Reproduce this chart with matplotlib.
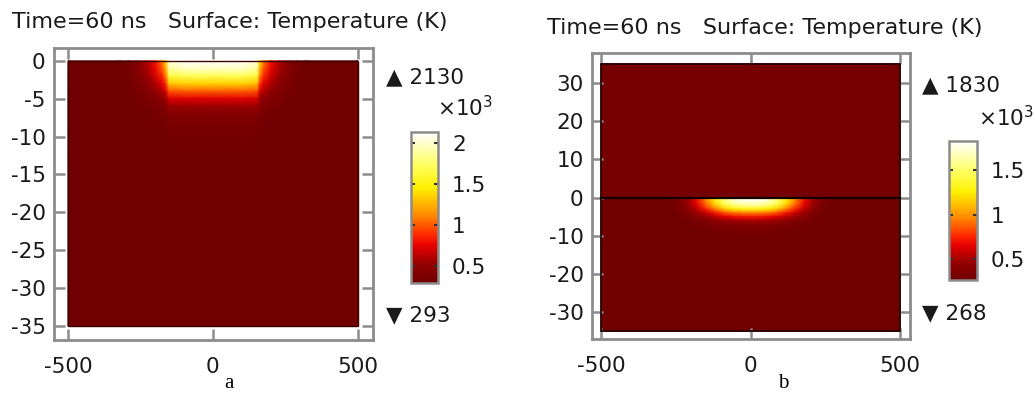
import numpy as np
import matplotlib
matplotlib.use('Agg')
import matplotlib.pyplot as plt
from matplotlib.colors import LinearSegmentedColormap, Normalize
from matplotlib.cm import ScalarMappable

# ---------------- data ----------------
# panel a : temperature rise profiles (x factor along surface, rise vs depth)
a_x = [-500, -320, -290, -260, -230, -200, -175, -162, -152, -100, 0, 100, 152, 162, 175, 200, 230, 260, 290, 320, 500]
a_xfac = [0, 0, 0.03, 0.08, 0.16, 0.28, 0.42, 0.58, 0.95, 1, 1, 1, 0.95, 0.58, 0.42, 0.28, 0.16, 0.08, 0.03, 0, 0]
a_y = [0, -1, -2, -3, -4, -5, -6, -7, -9, -12, -35]
a_rise = [1837, 1680, 1400, 1060, 720, 440, 250, 135, 50, 10, 0]
a_tmin, a_tmax = 293, 2130

# panel b
b_x = [-500, -280, -240, -210, -180, -150, -120, -90, -60, -30, 0, 30, 60, 90, 120, 150, 180, 210, 240, 280, 500]
b_xfac = [0, 0, 0.05, 0.14, 0.28, 0.45, 0.64, 0.83, 0.94, 0.99, 1, 0.99, 0.94, 0.83, 0.64, 0.45, 0.28, 0.14, 0.05, 0, 0]
b_y = [0, -1, -2, -3, -4, -5, -6, -7, -9, -12, -35]
b_rise = [1562, 1500, 1350, 1050, 700, 450, 250, 120, 35, 5, 0]
b_upper_y = [0, 35]
b_upper_t = 300
b_tmin, b_tmax = 268, 1830

a_xticks = [-500, 0, 500]
a_yticks = [0, -5, -10, -15, -20, -25, -30, -35]
b_xticks = [-500, 0, 500]
b_yticks = [30, 20, 10, 0, -10, -20, -30]
cb_a_ticks = [500, 1000, 1500, 2000]
cb_a_labels = ['0.5', '1', '1.5', '2']
cb_b_ticks = [500, 1000, 1500]
cb_b_labels = ['0.5', '1', '1.5']
title_text = 'Time=60 ns   Surface: Temperature (K)'

# ---------------- styling ----------------
cmap = LinearSegmentedColormap.from_list('thermal', [
    (0.0, '#700000'), (0.12, '#920000'), (0.25, '#e80000'), (0.32, '#ff2a00'),
    (0.45, '#ff8a00'), (0.63, '#fff000'), (0.78, '#ffff60'), (1.0, '#ffffff')])

W, H = 1035, 395
fig = plt.figure(figsize=(W / 100, H / 100), dpi=100)

def rect(x0, y0, x1, y1):
    return [x0 / W, 1 - y1 / H, (x1 - x0) / W, (y1 - y0) / H]

def ftext(x, y, s, **kw):
    fig.text(x / W, 1 - y / H, s, **kw)

FRAME = '#8c8c8c'
TXT = '#1a1a1a'
FS = 15.5
FT = 16

def style_axes(ax, xticks, yticks):
    for sp in ax.spines.values():
        sp.set_color(FRAME)
        sp.set_linewidth(2)
    ax.set_xticks(xticks)
    ax.set_yticks(yticks)
    ax.set_xticklabels([str(v) for v in xticks])
    ax.set_yticklabels([str(v) for v in yticks])
    ax.tick_params(direction='in', length=8, width=1.8, color=FRAME,
                   top=True, right=True, labelsize=FS, labelcolor=TXT)
    ax.tick_params(axis='x', pad=12)
    ax.tick_params(axis='y', pad=6)

def colorbar(pos, tmin, tmax, ticks, labels):
    cax = fig.add_axes(pos)
    sm = ScalarMappable(norm=Normalize(tmin, tmax), cmap=cmap)
    cb = fig.colorbar(sm, cax=cax)
    cb.outline.set_edgecolor(FRAME)
    cb.outline.set_linewidth(1.8)
    cb.set_ticks(ticks)
    cb.set_ticklabels(labels)
    cax.tick_params(direction='in', length=3, width=1.5, color='#333333',
                    left=True, right=True, labelsize=FS, labelcolor=TXT, pad=10)
    return cax

base_color = cmap(0.0)

# ---------------- panel a ----------------
axa = fig.add_axes(rect(54, 48, 373, 340))
axa.add_patch(plt.Rectangle((-500, -35), 1000, 35, color=base_color, lw=0, zorder=0.5))
Xa, Ya = np.meshgrid(a_x, a_y)
Ta = a_tmin + np.outer(a_rise, a_xfac)
axa.pcolormesh(Xa, Ya, Ta, shading='gouraud', cmap=cmap, vmin=a_tmin, vmax=a_tmax,
               antialiased=False, zorder=1)
axa.add_patch(plt.Rectangle((-500, -35), 1000, 35, fill=False, ec='#3a0000', lw=1.0, zorder=2))
axa.set_xlim(-548, 552)
axa.set_ylim(-36.85, 1.7)
style_axes(axa, a_xticks, a_yticks)
colorbar(rect(411, 132, 438, 283), a_tmin, a_tmax, cb_a_ticks, cb_a_labels)

# ---------------- panel b ----------------
axb = fig.add_axes(rect(592, 53, 910, 339))
axb.add_patch(plt.Rectangle((-500, -35), 1000, 70, color=base_color, lw=0, zorder=0.5))
Xb, Yb = np.meshgrid(b_x, b_y)
Tb = b_tmin + np.outer(b_rise, b_xfac)
axb.pcolormesh(Xb, Yb, Tb, shading='gouraud', cmap=cmap, vmin=b_tmin, vmax=b_tmax,
               antialiased=False, zorder=1)
Xu, Yu = np.meshgrid([-500, 500], b_upper_y)
axb.pcolormesh(Xu, Yu, np.full(Xu.shape, b_upper_t, dtype=float), shading='gouraud',
               cmap=cmap, vmin=b_tmin, vmax=b_tmax, antialiased=False, zorder=1)
axb.add_patch(plt.Rectangle((-500, -35), 1000, 70, fill=False, ec='#200000', lw=1.2, zorder=2))
axb.plot([-500, 500], [0, 0], color='#150000', lw=1.6, zorder=2)
axb.set_xlim(-530, 533)
axb.set_ylim(-37, 37.8)
style_axes(axb, b_xticks, b_yticks)
colorbar(rect(949, 141, 977, 280), b_tmin, b_tmax, cb_b_ticks, cb_b_labels)

# ---------------- texts ----------------
ftext(12, 22, title_text, fontsize=FT, color=TXT, va='center', ha='left')
ftext(547, 28, title_text, fontsize=FT, color=TXT, va='center', ha='left')

ftext(386, 77, '\u25B2 2130', fontsize=FS, color=TXT, va='center', ha='left')
ftext(493, 108, r'$\times 10^3$', fontsize=FS, color=TXT, va='center', ha='right')
ftext(386, 315, '\u25BC 293', fontsize=FS, color=TXT, va='center', ha='left')

ftext(922, 85, '\u25B2 1830', fontsize=FS, color=TXT, va='center', ha='left')
ftext(1034, 118, r'$\times 10^3$', fontsize=FS, color=TXT, va='center', ha='right')
ftext(922, 313, '\u25BC 268', fontsize=FS, color=TXT, va='center', ha='left')

ftext(229, 393, 'a', fontsize=15, family='Liberation Serif', color='black', va='bottom', ha='center')
ftext(783, 393, 'b', fontsize=15, family='Liberation Serif', color='black', va='bottom', ha='center')

fig.savefig('out.png', dpi=100)
